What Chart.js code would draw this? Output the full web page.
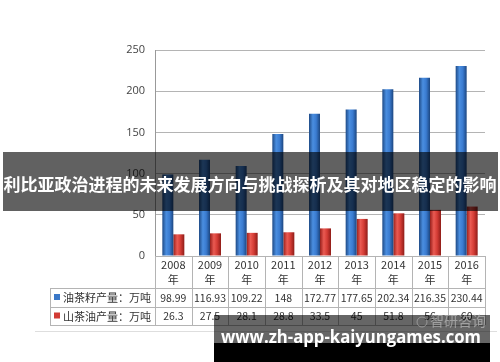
<!DOCTYPE html>
<html>
<head>
<meta charset="utf-8">
<script src="https://cdn.jsdelivr.net/npm/chart.js@4/dist/chart.umd.min.js"></script>
<style>
  html, body { margin: 0; padding: 0; background: #fff; }
  #wrap { width: 500px; height: 362px; }
</style>
</head>
<body>
<div id="wrap"><canvas id="chart" width="500" height="362"></canvas></div>
<script>
// 数据
const years = ['2008', '2009', '2010', '2011', '2012', '2013', '2014', '2015', '2016'];
const seedOutput = [98.99, 116.93, 109.22, 148, 172.77, 177.65, 202.34, 216.35, 230.44];
const oilOutput = [26.3, 27.5, 28.1, 28.8, 33.5, 45, 51.8, 56, 60];
const seriesNames = ['油茶籽产量：万吨', '山茶油产量：万吨'];
const yearSuffix = '年';
const yMax = 250;
const yStep = 50;

const titleText = '利比亚政治进程的未来发展方向与挑战探析及其对地区稳定的影响';
const siteText = 'www.zh-app-kaiyungames.com';
const logoText = '智研咨询';

const CJK = '"Noto Sans CJK SC", "Noto Sans", sans-serif';
const BLUE = '#3a78c8';
const RED = '#d23b35';

// 圆柱效果的横向渐变
function barGradient(context, stops, flat) {
    const chart = context.chart;
    const x = chart.scales.x;
    if (context.type !== 'data' || !x || !chart.chartArea) return flat;
    const half = (x.width / years.length) * 0.6 / 2;
    const center = x.getPixelForValue(context.dataIndex) + (context.datasetIndex === 0 ? -half / 2 : half / 2);
    const g = chart.ctx.createLinearGradient(center - half / 2, 0, center + half / 2, 0);
    stops.forEach(([p, c]) => g.addColorStop(p, c));
    return g;
}

const tablePlugin = {
    id: 'dataTable',
    afterDraw(chart) {
        const { ctx, chartArea: a, scales: { x } } = chart;
        const step = (a.right - a.left) / years.length;
        const row1 = 288, row2 = 307, rowEnd = 325, tableLeft = 50;

        ctx.save();
        ctx.strokeStyle = '#b4b4b4';
        ctx.lineWidth = 1;
        ctx.beginPath();
        for (let i = 0; i <= years.length; i++) {
            const px = Math.round(a.left + i * step) + 0.5;
            ctx.moveTo(px, a.bottom);
            ctx.lineTo(px, rowEnd);
        }
        [row1, row2, rowEnd].forEach(y => {
            ctx.moveTo(tableLeft, y + 0.5);
            ctx.lineTo(a.right, y + 0.5);
        });
        ctx.moveTo(tableLeft + 0.5, row1);
        ctx.lineTo(tableLeft + 0.5, rowEnd);
        ctx.stroke();

        // 底部浅线
        ctx.strokeStyle = '#dedede';
        ctx.beginPath();
        ctx.moveTo(35, 331.5);
        ctx.lineTo(497, 331.5);
        ctx.stroke();

        // 表头年份
        ctx.fillStyle = '#333';
        ctx.font = '11px ' + CJK;
        ctx.textAlign = 'center';
        ctx.textBaseline = 'middle';
        years.forEach((yr, i) => {
            const cx = x.getPixelForValue(i);
            ctx.fillText(yr, cx, 265);
            ctx.fillText(yearSuffix, cx, 280);
        });

        // 图例列与数值
        const rows = [[seedOutput, BLUE, (row1 + row2) / 2], [oilOutput, RED, (row2 + rowEnd) / 2]];
        rows.forEach(([vals, color, cy], k) => {
            ctx.fillStyle = color;
            ctx.fillRect(54, cy - 3.5, 6, 6);
            ctx.fillStyle = '#333';
            ctx.font = '11px ' + CJK;
            ctx.textAlign = 'left';
            ctx.fillText(seriesNames[k], 63, cy + 0.5, 89);
            ctx.font = '10.5px ' + CJK;
            ctx.textAlign = 'center';
            vals.forEach((v, i) => ctx.fillText(String(v), x.getPixelForValue(i), cy + 0.5));
        });

        // 标题横幅
        ctx.fillStyle = 'rgba(0,0,0,0.62)';
        ctx.fillRect(3, 152, 495, 59);
        ctx.fillStyle = '#fff';
        ctx.font = 'bold 17px ' + CJK;
        ctx.textAlign = 'center';
        ctx.fillText(titleText, 250, 185, 494);

        // 网址水印
        ctx.fillStyle = 'rgba(0,0,0,0.6)';
        ctx.fillRect(214, 315, 276, 28);
        ctx.fillStyle = '#000';
        ctx.fillRect(214, 343, 276, 19);
        ctx.fillStyle = 'rgba(210,210,210,0.55)';
        ctx.font = '14px ' + CJK;
        ctx.textAlign = 'left';
        ctx.fillText(logoText, 430, 321);
        ctx.strokeStyle = 'rgba(210,210,210,0.45)';
        ctx.beginPath();
        ctx.arc(422, 322, 5, 0, Math.PI * 2);
        ctx.stroke();
        ctx.fillStyle = '#fff';
        ctx.font = 'bold 18px "Open Sans", "DejaVu Sans", sans-serif';
        ctx.textAlign = 'center';
        ctx.textBaseline = 'alphabetic';
        ctx.fillText(siteText, 351, 343, 260);
        ctx.restore();
    }
};

new Chart(document.getElementById('chart'), {
    type: 'bar',
    data: {
        labels: years,
        datasets: [{
            label: seriesNames[0],
            data: seedOutput,
            backgroundColor: c => barGradient(c, [[0, '#1e4a86'], [0.35, '#4a8ee0'], [0.65, '#3a7bd0'], [1, '#1c4680']], BLUE),
            categoryPercentage: 0.6,
            barPercentage: 1
        }, {
            label: seriesNames[1],
            data: oilOutput,
            backgroundColor: c => barGradient(c, [[0, '#98201c'], [0.35, '#ea5a52'], [0.65, '#d43c35'], [1, '#8e1c18']], RED),
            categoryPercentage: 0.6,
            barPercentage: 1
        }]
    },
    options: {
        responsive: false,
        animation: false,
        layout: { padding: { top: 50, right: 15, left: 0, bottom: 0 } },
        plugins: { legend: { display: false }, tooltip: { enabled: false } },
        scales: {
            x: {
                grid: { display: false },
                border: { color: '#b4b4b4' },
                ticks: { display: false },
                afterFit: s => { s.height = 106; }
            },
            y: {
                min: 0,
                max: yMax,
                grid: { color: '#b4b4b4', drawTicks: false },
                border: { color: '#999' },
                ticks: {
                    stepSize: yStep,
                    color: '#444',
                    padding: 10,
                    font: { size: 11, family: '"Open Sans", "DejaVu Sans", sans-serif' }
                },
                afterFit: s => { s.width = 155; }
            }
        }
    },
    plugins: [tablePlugin]
});
</script>
</body>
</html>
